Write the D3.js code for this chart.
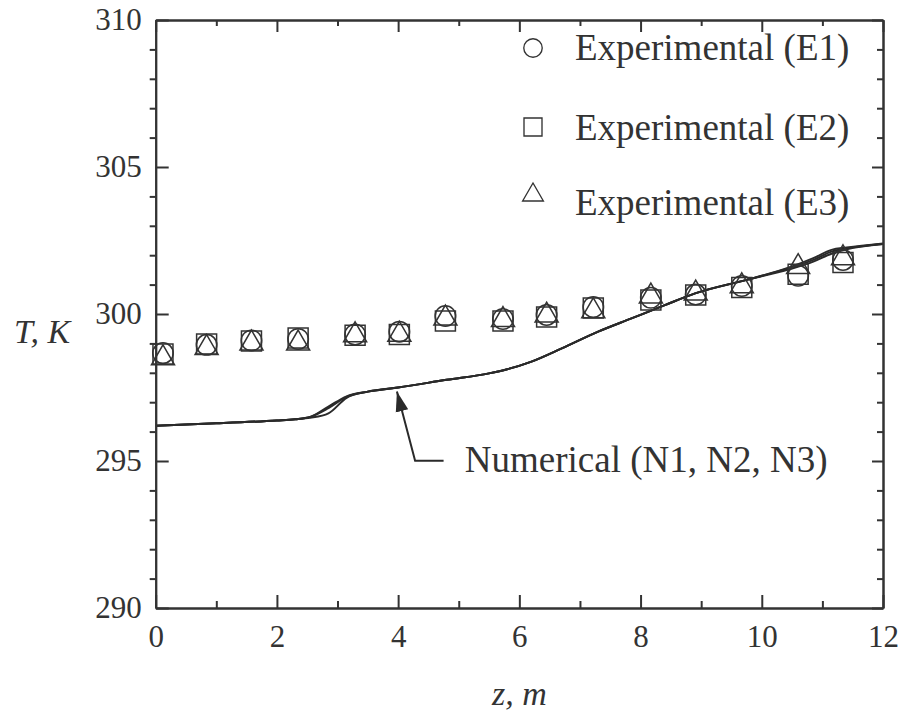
<!DOCTYPE html>
<html>
<head>
<meta charset="utf-8">
<script src="https://cdn.jsdelivr.net/npm/d3@7"></script>
<style>
  body { margin: 0; background: #fff; }
  text { font-family: "Liberation Serif", "Times New Roman", serif; fill: #333; }
</style>
</head>
<body>
<script>
// experimental data (three repeats)
var expZ = [0.12, 0.84, 1.58, 2.35, 3.29, 4.02, 4.78, 5.73, 6.45, 7.22, 8.17, 8.91, 9.67, 10.6, 11.34];
var e1 = [298.67, 298.95, 299.1, 299.15, 299.3, 299.4, 299.93, 299.83, 299.97, 300.24, 300.55, 300.66, 300.95, 301.3, 301.84];
var e2 = [298.64, 298.98, 299.08, 299.18, 299.28, 299.3, 299.76, 299.76, 299.9, 300.2, 300.48, 300.65, 300.9, 301.35, 301.75];
var e3 = [298.5, 298.85, 299.0, 299.0, 299.28, 299.3, 299.85, 299.8, 299.95, 300.1, 300.6, 300.7, 300.95, 301.6, 301.9];

// numerical runs
var numZ = [0, 1, 2, 2.3, 2.55, 2.85, 3.15, 3.5, 4.0, 4.8, 5.5, 5.8, 6.2, 6.7, 7.3, 7.85, 8.4, 8.9, 9.75, 10.45, 10.85, 11.15, 11.4, 12];
var n1 = [296.2, 296.28, 296.38, 296.42, 296.5, 296.85, 297.2, 297.36, 297.5, 297.76, 297.98, 298.12, 298.38, 298.83, 299.4, 299.85, 300.3, 300.7, 301.16, 301.56, 301.84, 302.12, 302.23, 302.38];
var n2 = [296.2, 296.28, 296.38, 296.42, 296.47, 296.62, 297.15, 297.36, 297.5, 297.76, 297.98, 298.12, 298.38, 298.83, 299.4, 299.85, 300.3, 300.7, 301.16, 301.52, 301.78, 302.05, 302.2, 302.38];
var n3 = [296.2, 296.28, 296.38, 296.42, 296.5, 296.8, 297.18, 297.36, 297.5, 297.76, 297.98, 298.12, 298.38, 298.83, 299.4, 299.85, 300.3, 300.7, 301.16, 301.58, 301.9, 302.18, 302.26, 302.4];

var xTicks = [0, 2, 4, 6, 8, 10, 12];
var xMinor = [1, 3, 5, 7, 9, 11];
var yTicks = [290, 295, 300, 305, 310];
var yMinor = [291, 292, 293, 294, 296, 297, 298, 299, 301, 302, 303, 304, 306, 307, 308, 309];

var legendLabels = ['Experimental (E1)', 'Experimental (E2)', 'Experimental (E3)'];
var noteLabel = 'Numerical (N1, N2, N3)';

var width = 903, height = 715;
var ink = '#333';

var svg = d3.select('body').append('svg')
  .attr('width', width)
  .attr('height', height);

var x = d3.scaleLinear().domain([0, 12]).range([155.7, 883]);
var y = d3.scaleLinear().domain([290, 310]).range([608, 20]);

var plot = svg.append('g');

// clip so the lines stop at the frame
svg.append('defs').append('clipPath').attr('id', 'clip')
  .append('rect')
  .attr('x', x(0)).attr('y', y(310))
  .attr('width', x(12) - x(0)).attr('height', y(290) - y(310));

// numerical lines
var line = d3.line()
  .x(function(d) { return x(d[0]); })
  .y(function(d) { return y(d[1]); })
  .curve(d3.curveMonotoneX);

[n1, n2, n3].forEach(function(s) {
  plot.append('path')
    .datum(numZ.map(function(z, i) { return [z, s[i]]; }))
    .attr('clip-path', 'url(#clip)')
    .attr('fill', 'none')
    .attr('stroke', '#2a2a2a')
    .attr('stroke-width', 2)
    .attr('d', line);
});

// markers
var sym = {
  circle: d3.symbol().type(d3.symbolCircle).size(330),
  square: d3.symbol().type(d3.symbolSquare).size(400),
  triangle: d3.symbol().type(d3.symbolTriangle).size(230)
};
var series = [[e1, 'circle'], [e2, 'square'], [e3, 'triangle']];

series.forEach(function(s) {
  plot.selectAll(null)
    .data(expZ.map(function(z, i) { return [z, s[0][i]]; }))
    .enter()
    .append('path')
    .attr('transform', function(d) { return 'translate(' + x(d[0]) + ',' + y(d[1]) + ')'; })
    .attr('d', sym[s[1]])
    .attr('fill', 'none')
    .attr('stroke', ink)
    .attr('stroke-width', 1.5);
});

// axes
function styleAxis(g) {
  g.selectAll('path').attr('stroke', ink).attr('stroke-width', 2);
  g.selectAll('line').attr('stroke', ink).attr('stroke-width', 2);
  g.selectAll('text').attr('font-family', '"Liberation Serif", "Times New Roman", serif')
    .attr('font-size', 31).attr('fill', ink);
}

svg.append('g').attr('transform', 'translate(0,' + y(290) + ')')
  .call(d3.axisBottom(x).tickValues(xTicks).tickSize(-13).tickSizeOuter(0).tickPadding(17).tickFormat(d3.format('d')))
  .call(styleAxis);
svg.append('g').attr('transform', 'translate(0,' + y(290) + ')')
  .call(d3.axisBottom(x).tickValues(xMinor).tickSize(-7).tickSizeOuter(0).tickFormat(''))
  .call(styleAxis);
svg.append('g').attr('transform', 'translate(0,' + y(310) + ')')
  .call(d3.axisTop(x).tickValues(xTicks).tickSize(-12).tickSizeOuter(0).tickFormat(''))
  .call(styleAxis);
svg.append('g').attr('transform', 'translate(0,' + y(310) + ')')
  .call(d3.axisTop(x).tickValues(xMinor).tickSize(-6).tickSizeOuter(0).tickFormat(''))
  .call(styleAxis);

svg.append('g').attr('transform', 'translate(' + x(0) + ',0)')
  .call(d3.axisLeft(y).tickValues(yTicks).tickSize(-13).tickSizeOuter(0).tickPadding(14).tickFormat(d3.format('d')))
  .call(styleAxis);
svg.append('g').attr('transform', 'translate(' + x(0) + ',0)')
  .call(d3.axisLeft(y).tickValues(yMinor).tickSize(6).tickSizeOuter(0).tickFormat(''))
  .call(styleAxis);
svg.append('g').attr('transform', 'translate(' + x(12) + ',0)')
  .call(d3.axisRight(y).tickValues(yTicks).tickSize(-11).tickSizeOuter(0).tickFormat(''))
  .call(styleAxis);
svg.append('g').attr('transform', 'translate(' + x(12) + ',0)')
  .call(d3.axisRight(y).tickValues(yMinor).tickSize(-6).tickSizeOuter(0).tickFormat(''))
  .call(styleAxis);

// axis titles
svg.append('text')
  .attr('x', 14).attr('y', 343)
  .attr('font-size', 34).attr('font-style', 'italic')
  .text('T, K');
svg.append('text')
  .attr('x', (x(0) + x(12)) / 2).attr('y', 705)
  .attr('text-anchor', 'middle')
  .attr('font-size', 34).attr('font-style', 'italic')
  .text('z, m');

// legend
var legend = svg.append('g');
var legSym = ['circle', 'square', 'triangle'];
var legY = [48, 127, 195];
var legBase = [60, 140, 215];
legendLabels.forEach(function(lbl, i) {
  legend.append('path')
    .attr('transform', 'translate(533,' + legY[i] + ')')
    .attr('d', sym[legSym[i]])
    .attr('fill', 'none')
    .attr('stroke', ink)
    .attr('stroke-width', 1.5)
    .attr('transform', 'translate(533,' + legY[i] + ') scale(0.9)');
  legend.append('text')
    .attr('x', 575).attr('y', legBase[i])
    .attr('font-size', 37)
    .text(lbl);
});

// annotation arrow for the numerical curves
var tip = [3.98, 297.36], elbow = [4.28, 295.01], tail = [4.75, 295.01];
svg.append('defs').append('marker')
  .attr('id', 'arrow')
  .attr('viewBox', '0 0 10 10')
  .attr('refX', 10).attr('refY', 5)
  .attr('markerWidth', 20).attr('markerHeight', 20)
  .attr('markerUnits', 'userSpaceOnUse')
  .attr('orient', 'auto')
  .append('path')
  .attr('d', 'M0,1.8 L10,5 L0,8.2 Z')
  .attr('fill', '#2a2a2a');

svg.append('path')
  .datum([tail, elbow, tip])
  .attr('d', d3.line().x(function(d) { return x(d[0]); }).y(function(d) { return y(d[1]); }))
  .attr('fill', 'none')
  .attr('stroke', '#2a2a2a')
  .attr('stroke-width', 2)
  .attr('marker-end', 'url(#arrow)');

svg.append('text')
  .attr('x', x(5.1)).attr('y', y(294.63))
  .attr('font-size', 37)
  .text(noteLabel);
</script>
</body>
</html>
